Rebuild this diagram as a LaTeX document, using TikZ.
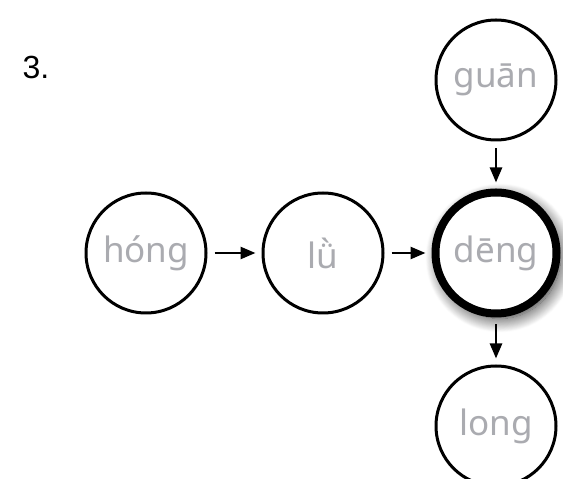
\documentclass[tikz,border=0pt]{standalone}
\usepackage{fontspec}
\setmainfont{Noto Sans}
\newfontfamily\numfont{Liberation Sans}
\usepackage{tikz}
\usetikzlibrary{arrows.meta,positioning,shadows.blur}
\definecolor{syltext}{RGB}{170,171,176}
\tikzset{
  syl/.style={circle, draw=black, line width=3pt, fill=white, minimum size=120pt, inner sep=0pt, text=syltext, font=\fontsize{35}{40}\selectfont},
  sylmain/.style={syl, line width=8pt, minimum size=121pt, blur shadow={shadow xshift=4pt, shadow yshift=-5pt, shadow blur radius=14pt, shadow blur steps=16, shadow opacity=85}},
  sarr/.style={-{Triangle[length=15pt,width=12pt]}, line width=2.5pt, shorten <=7pt, shorten >=6pt}
}
\begin{document}
\begin{tikzpicture}[x=1pt,y=1pt]
\useasboundingbox (0,0) rectangle (563,479);
\node[anchor=base west, font=\numfont\fontsize{32}{36}\selectfont] (num) at (19,400) {3.};
\node[syl] (hong) at (146,226) {hóng};
\node[syl, right=54pt of hong] (lu) {lǜ};
\node[sylmain, right=47pt of lu] (deng) {dēng};
\node[syl, above=47pt of deng] (guan) {guān};
\node[syl, below=47pt of deng] (long) {long};
\draw[sarr] (hong)--(lu);
\draw[sarr] (lu)--(deng);
\draw[sarr] (guan)--(deng);
\draw[sarr] (deng)--(long);
\end{tikzpicture}
\end{document}
